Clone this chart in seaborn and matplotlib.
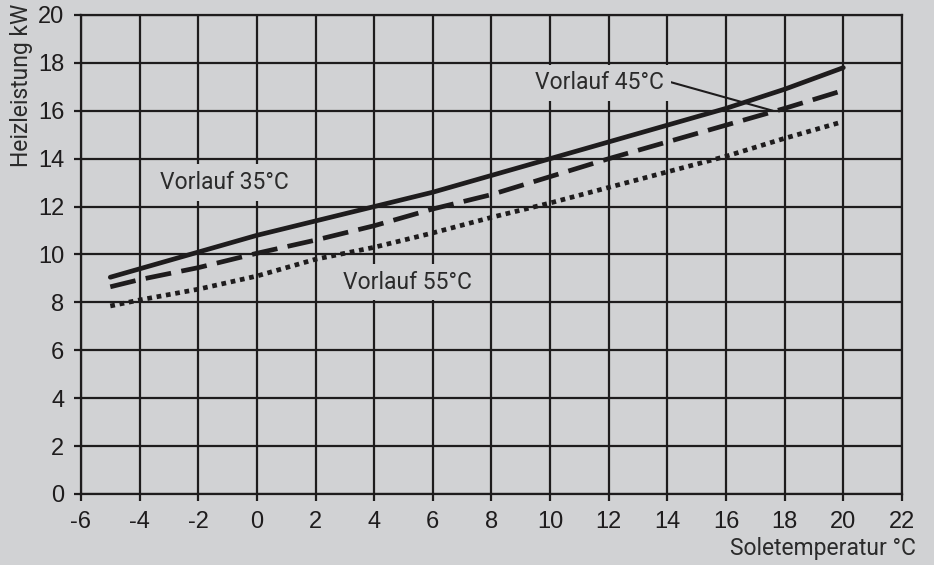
import numpy as np
import pandas as pd
import matplotlib
matplotlib.use("Agg")
import matplotlib.pyplot as plt
import seaborn as sns

# Werte
sole_temp = [-5, -4, -2, 0, 2, 4, 6, 8, 10, 12, 14, 16, 18, 20]
vorlauf_35 = [9.05, 9.4, 10.1, 10.8, 11.4, 12.0, 12.6, 13.3, 14.0, 14.7, 15.4, 16.1, 16.9, 17.8]
vorlauf_45 = [8.65, 8.95, 9.45, 10.05, 10.6, 11.2, 11.9, 12.5, 13.25, 14.0, 14.7, 15.4, 16.1, 16.85]
vorlauf_55 = [7.85, 8.1, 8.55, 9.1, 9.8, 10.3, 10.9, 11.55, 12.15, 12.8, 13.45, 14.1, 14.85, 15.55]

x_ticks = list(range(-6, 23, 2))
y_ticks = list(range(0, 21, 2))

bg = "#d1d2d4"
ink = "#1e1c1d"
txt = "#2b2b2b"

df = pd.DataFrame({
    "Soletemperatur": sole_temp * 3,
    "Heizleistung": vorlauf_35 + vorlauf_45 + vorlauf_55,
    "Vorlauf": ["35"] * len(sole_temp) + ["45"] * len(sole_temp) + ["55"] * len(sole_temp),
})

sns.set_theme(style="ticks", rc={"axes.facecolor": bg, "figure.facecolor": bg})
plt.rcParams["font.family"] = ["Liberation Sans", "DejaVu Sans"]
plt.rcParams["axes.unicode_minus"] = False

fig = plt.figure(figsize=(9.34, 5.65), dpi=100)
ax = fig.add_axes([0.0867, 0.1257, 0.879, 0.8478])

sns.lineplot(data=df, x="Soletemperatur", y="Heizleistung", style="Vorlauf",
             dashes={"35": "", "45": (5.5, 2.2), "55": (1, 1)},
             color=ink, linewidth=3.4, legend=False, ax=ax, zorder=3)

ax.set_xlim(-6, 22)
ax.set_ylim(0, 20)
ax.set_xticks(x_ticks)
ax.set_yticks(y_ticks)
ax.grid(True, color=ink, linewidth=1.6, zorder=1)
ax.set_axisbelow(True)
for s in ax.spines.values():
    s.set_color(ink)
    s.set_linewidth(1.6)
ax.tick_params(length=5, width=1.6, color=ink, labelsize=17, labelcolor=ink, pad=7)

lab_font = dict(family=["Roboto", "DejaVu Sans"], fontsize=16.5, color=txt)
ax.set_xlabel("Soletemperatur °C", loc="right", **lab_font)
ax.xaxis.set_label_coords(1.017, -0.113)
ax.xaxis.label.set_va("center")
ax.set_ylabel("Heizleistung kW", loc="top", **lab_font)
ax.yaxis.set_label_coords(-0.072, 1.024)
ax.yaxis.label.set_va("center")

box = dict(facecolor=bg, edgecolor="none", pad=5)
vl_font = dict(family=["Roboto", "DejaVu Sans"], fontsize=16.5, color=txt, zorder=5)
ax.text(-3.31, 12.99, "Vorlauf 35°C", va="center", bbox=box, **vl_font)
ax.text(2.94, 8.85, "Vorlauf 55°C", va="center", bbox=box, **vl_font)
ax.annotate("Vorlauf 45°C", xy=(17.6, 16.0), xytext=(13.88, 17.16),
            ha="right", va="center", bbox=box,
            arrowprops=dict(arrowstyle="-", color=ink, lw=1.5, shrinkA=0, shrinkB=0,
                            relpos=(1.0, 0.62)),
            **vl_font)

plt.savefig("out.png", dpi=100, facecolor=bg)
